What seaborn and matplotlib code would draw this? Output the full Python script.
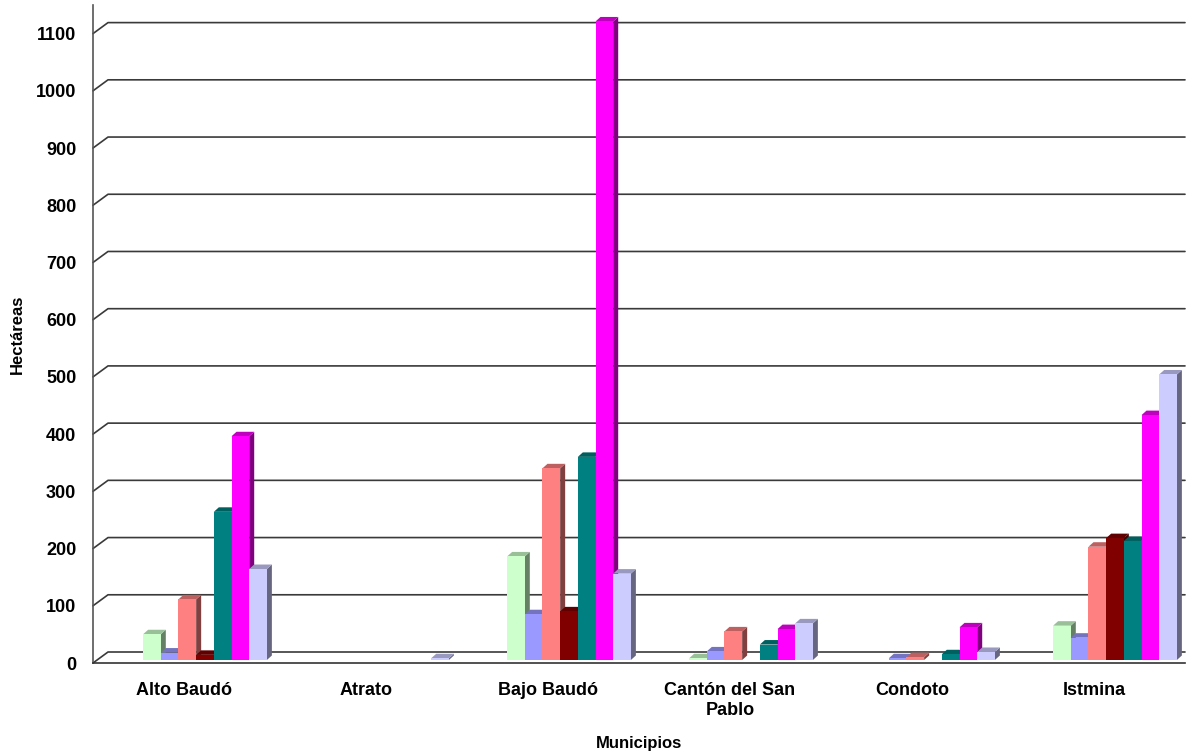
import numpy as np
import pandas as pd
import matplotlib
matplotlib.use("Agg")
import matplotlib.pyplot as plt
import seaborn as sns
from matplotlib.patches import Polygon, Rectangle
from matplotlib.colors import to_rgb

# hectares per municipality, 7 series (no legend in the original)
municipios = ["Alto Baudó", "Atrato", "Bajo Baudó", "Cantón del San\nPablo", "Condoto", "Istmina"]
series = ["Serie 1", "Serie 2", "Serie 3", "Serie 4", "Serie 5", "Serie 6", "Serie 7"]
serie_1 = [45, 0, 181, 3, 0, 60]
serie_2 = [13, 0, 80, 15, 3, 39]
serie_3 = [106, 0, 335, 50, 5, 198]
serie_4 = [9, 0, 85, 0, 0, 213]
serie_5 = [259, 0, 355, 27, 10, 208]
serie_6 = [391, 0, 1116, 54, 57, 428]
serie_7 = [159, 3, 151, 64, 14, 499]
colores = ["#CCFFCC", "#9999FF", "#FF8080", "#800000", "#008080", "#FF00FF", "#CCCCFF"]
y_ticks = list(range(0, 1101, 100))

valores = [serie_1, serie_2, serie_3, serie_4, serie_5, serie_6, serie_7]
rows = []
for s, vals in zip(series, valores):
    for m, v in zip(municipios, vals):
        rows.append({"Municipio": m, "Serie": s, "Hectareas": v})
df = pd.DataFrame(rows)

sns.set_style("white")
plt.rcParams["font.family"] = ["Liberation Sans", "DejaVu Sans"]
plt.rcParams["font.weight"] = "bold"
plt.rcParams["text.color"] = "black"
plt.rcParams["axes.labelcolor"] = "black"
plt.rcParams["xtick.color"] = "black"
plt.rcParams["ytick.color"] = "black"

fig = plt.figure(figsize=(11.99, 7.54), dpi=100)
ax = fig.add_axes([93 / 1199, 91 / 754, 1092 / 1199, 658 / 754])

sns.barplot(data=df, x="Municipio", y="Hectareas", hue="Serie", order=municipios,
            hue_order=series, palette=colores, width=0.68, saturation=1,
            legend=False, ax=ax, errorbar=None)

ax.set_xlim(-0.5, len(municipios) - 0.5)
ax.set_ylim(0, 1150)

# pixel -> data helpers
p0 = ax.transData.transform((0, 0))
px_x = ax.transData.transform((1, 0))[0] - p0[0]
px_y = ax.transData.transform((0, 1))[1] - p0[1]

def dx(px):
    return px / px_x

def dy(px):
    return px / px_y

# back wall grid lines with a short diagonal from the axis
wall_x, wall_y = dx(15), dy(11)
for v in y_ticks:
    ax.plot([-0.5, -0.5 + wall_x, len(municipios) - 0.5], [v, v + wall_y, v + wall_y],
            color="#3a3a3a", lw=1.2, zorder=1, clip_on=False)

# 3D look for the bars
shift_x, shift_y = dx(21), dy(3)
depth_x, depth_y = dx(5), dy(4.5)
rects = [p for p in ax.patches if isinstance(p, Rectangle)]
for p in rects:
    if p.get_height() <= 0:
        p.set_visible(False)
bars = sorted([p for p in rects if p.get_height() > 0], key=lambda p: p.get_x())
for k, p in enumerate(bars):
    p.set_x(p.get_x() + shift_x)
    p.set_y(shift_y)
    p.set_edgecolor("none")
    x0, w, h = p.get_x(), p.get_width(), p.get_height()
    y0, y1, x1 = shift_y, shift_y + h, x0 + w
    c = np.array(to_rgb(p.get_facecolor()))
    z = 3 + k * 0.01
    side = Polygon([(x1, y0), (x1 + depth_x, y0 + depth_y), (x1 + depth_x, y1 + depth_y), (x1, y1)],
                   closed=True, facecolor=c * 0.5, edgecolor="none", zorder=z)
    top = Polygon([(x0, y1), (x0 + depth_x, y1 + depth_y), (x1 + depth_x, y1 + depth_y), (x1, y1)],
                  closed=True, facecolor=c * 0.75, edgecolor="none", zorder=z)
    ax.add_patch(side)
    ax.add_patch(top)
    p.set_zorder(z + 0.001)

ax.set_yticks(y_ticks)
ax.tick_params(axis="y", length=8, width=1, color="#333333", pad=4, labelsize=13,
               labelcolor="black")
ax.set_xticks(range(len(municipios)))
ax.set_xticklabels(municipios, fontsize=13, fontweight="bold")
ax.set_xticks(np.arange(-0.5, len(municipios), 1), minor=True)
ax.tick_params(axis="x", which="major", length=0, pad=14, labelcolor="black")
ax.tick_params(axis="x", which="minor", length=9, width=1, color="#333333", direction="out")
for lab in ax.get_yticklabels():
    lab.set_fontweight("bold")

for side_name in ["top", "right"]:
    ax.spines[side_name].set_visible(False)
ax.spines["left"].set_color("#555555")
ax.spines["bottom"].set_color("#333333")
ax.spines["left"].set_linewidth(1.2)
ax.spines["bottom"].set_linewidth(1.2)

ax.set_xlabel("Municipios", fontsize=12, fontweight="bold", labelpad=12, color="black")
ax.set_ylabel("Hectáreas", fontsize=12, fontweight="bold", labelpad=8, color="black")

fig.savefig("out.png", dpi=100)
